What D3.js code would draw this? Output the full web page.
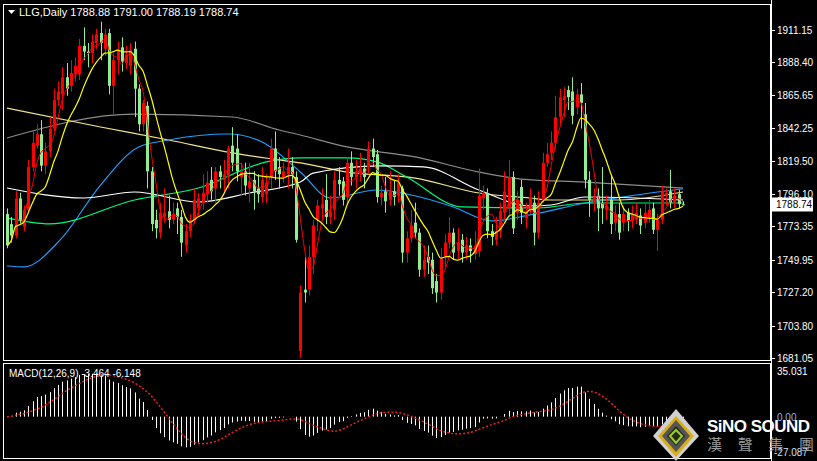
<!DOCTYPE html>
<html><head><meta charset="utf-8">
<script src="https://cdn.jsdelivr.net/npm/d3@7"></script>
<style>body{margin:0;background:#000}svg{display:block}</style>
</head><body>
<svg id="c" width="817" height="461"></svg>
<script>
const opens=[1782,1775,1767,1793,1773,1785,1815,1830,1838,1816,1826,1842,1862,1866,1878,1872,1880,1880,1900,1896,1895,1902,1909,1898,1909,1872,1890,1899,1888,1886,1898,1870,1845,1858,1812,1778,1769,1780,1784,1778,1786,1780,1760,1770,1778,1786,1790,1796,1806,1800,1812,1806,1808,1830,1828,1808,1812,1800,1806,1800,1794,1796,1808,1828,1815,1808,1810,1815,1808,1686,1729,1729,1752,1778,1786,1792,1780,1785,1806,1805,1794,1818,1808,1810,1814,1815,1828,1824,1794,1798,1792,1798,1795,1800,1755,1765,1776,1769,1743,1752,1750,1735,1727,1752,1762,1769,1756,1764,1755,1760,1754,1756,1793,1796,1770,1764,1770,1783,1786,1808,1783,1801,1779,1788,1790,1769,1792,1818,1825,1832,1850,1862,1869,1868,1857,1866,1852,1806,1790,1795,1790,1785,1792,1776,1782,1776,1783,1777,1778,1781,1776,1780,1786,1771,1778,1795,1798,1790,1796,1788.88];
const highs=[1786,1780,1798,1797,1788,1820,1840,1845,1848,1832,1850,1870,1875,1885,1888,1890,1892,1905,1913,1902,1908,1912,1917,1912,1912,1895,1903,1906,1900,1902,1903,1873,1862,1861,1815,1785,1790,1800,1795,1790,1790,1785,1775,1782,1800,1797,1810,1812,1815,1815,1816,1820,1830,1843,1838,1818,1818,1818,1812,1810,1815,1810,1835,1840,1822,1818,1828,1822,1812,1732,1752,1760,1778,1792,1800,1810,1795,1812,1815,1808,1822,1826,1820,1825,1818,1833,1835,1827,1802,1808,1812,1806,1810,1802,1770,1785,1790,1772,1760,1760,1755,1740,1758,1768,1780,1772,1772,1768,1766,1765,1770,1814,1802,1800,1775,1780,1790,1812,1820,1812,1798,1806,1790,1800,1795,1798,1825,1832,1840,1865,1870,1871,1872,1878,1870,1874,1860,1812,1800,1800,1815,1795,1810,1788,1790,1788,1786,1788,1790,1786,1790,1792,1790,1782,1802,1800,1813,1800,1799,1791.00];
const lows=[1758,1762,1765,1775,1770,1783,1812,1828,1812,1810,1822,1840,1858,1855,1865,1868,1875,1876,1890,1885,1888,1898,1890,1893,1866,1852,1880,1882,1884,1880,1850,1840,1840,1800,1770,1765,1765,1776,1772,1775,1768,1752,1755,1766,1775,1780,1785,1790,1792,1790,1800,1798,1800,1812,1805,1795,1795,1790,1785,1790,1790,1790,1800,1806,1800,1804,1800,1800,1762,1681,1720,1725,1740,1770,1778,1775,1775,1778,1795,1788,1790,1802,1800,1805,1800,1810,1815,1790,1788,1783,1788,1788,1790,1748,1748,1762,1765,1738,1738,1740,1726,1720,1722,1745,1758,1750,1750,1748,1750,1748,1750,1752,1785,1765,1760,1760,1765,1778,1780,1768,1778,1775,1772,1782,1760,1765,1790,1815,1820,1828,1845,1850,1855,1845,1852,1842,1800,1780,1784,1770,1775,1778,1768,1770,1764,1770,1770,1772,1775,1768,1772,1776,1768,1756,1775,1788,1786,1786,1786,1788.19];
const closes=[1760,1767,1793,1778,1785,1815,1832,1838,1816,1826,1842,1862,1868,1878,1870,1881,1886,1900,1896,1895,1903,1908,1902,1908,1872,1890,1897,1889,1894,1897,1870,1845,1860,1812,1775,1772,1783,1783,1778,1782,1780,1762,1770,1778,1792,1793,1797,1804,1798,1812,1808,1810,1828,1818,1812,1812,1802,1805,1798,1796,1806,1804,1828,1812,1810,1812,1815,1810,1764,1727,1727,1752,1774,1788,1789,1780,1784,1806,1803,1792,1818,1808,1812,1814,1808,1828,1822,1794,1797,1791,1798,1794,1804,1755,1765,1774,1769,1743,1750,1748,1730,1727,1751,1762,1769,1755,1762,1755,1760,1756,1760,1795,1797,1770,1766,1770,1784,1798,1808,1772,1792,1783,1784,1794,1769,1790,1818,1824,1832,1850,1864,1865,1864,1851,1866,1860,1806,1792,1794,1786,1786,1788,1775,1782,1769,1782,1777,1782,1783,1774,1783,1785,1771,1778,1798,1797,1790,1795,1789,1788.74];
const maGray=[[0,1835.4],[30,1852.2],[53,1850.1],[64,1841.0],[69,1837.5],[80,1829.1],[96,1822.1],[111,1811.5],[121,1806.6],[136,1804.5],[159,1800.3]];
const maKhaki=[[0,1856.4],[22,1843.1],[38,1834.0],[53,1824.9],[64,1820.0],[69,1817.9],[80,1811.5],[96,1807.3],[111,1796.8],[123,1793.3],[128,1791.9],[144,1791.9],[159,1797.5]];
const maBlue=[[0,1745.6],[4,1745.0],[12.5,1763.9],[22,1802.4],[31,1829.1],[38,1834.0],[52,1838.2],[60,1832.6],[69,1811.5],[76,1793.3],[87,1798.9],[98,1793.3],[105,1787.0],[114,1777.2],[123,1781.4],[136,1789.8],[148,1795.4],[159,1799.8]];
const maGreen=[[0,1779.3],[10,1775.1],[30,1791.9],[45,1800.3],[61,1818.6],[69,1821.4],[80,1821.4],[87,1818.6],[94,1808.0],[107,1787.0],[125,1786.3],[136,1789.8],[159,1789.8]];
const maWhite=[[0,1800.3],[18,1793.3],[30,1797.5],[45,1790.5],[57,1796.8],[69,1804.5],[72,1810.8],[88,1815.8],[98,1815.1],[111,1798.9],[123,1787.7],[128,1788.4],[136,1794.0],[148,1793.3],[159,1791.9]];
const priceTicks=[1911.15,1888.40,1865.65,1842.25,1819.50,1796.10,1773.35,1749.95,1727.20,1703.80,1681.05];
const macdTicks=[35.031,0,-27.087];
const macdTickLabels=["35.031","0.00","-27.087"];
const header="LLG,Daily  1788.88 1791.00 1788.19 1788.74";
const macdLabel="MACD(12,26,9) -3.464 -6.148";

const svg=d3.select("#c");
const N=closes.length;
const x=d3.scaleLinear().domain([0,N-1]).range([7,683]);
const y=d3.scaleLinear().domain([1681.05,1911.15]).range([358,30]);
const ym=d3.scaleLinear().domain([-27.087,35.031]).range([452,371]);
svg.append("rect").attr("width",817).attr("height",461).attr("fill","#000");
svg.append("rect").attr("x",3.5).attr("y",4.5).attr("width",767).attr("height",356).attr("fill","none").attr("stroke","#fff");
svg.append("rect").attr("x",3.5).attr("y",363.5).attr("width",767).attr("height",95).attr("fill","none").attr("stroke","#fff");
svg.append("line").attr("x1",771.5).attr("x2",771.5).attr("y1",0).attr("y2",461).attr("stroke","#fff");

const g=svg.append("g");
g.append("clipPath").attr("id","cp").append("rect").attr("x",4).attr("y",5).attr("width",766).attr("height",355);
const pg=g.append("g").attr("clip-path","url(#cp)");
function sma(p){return closes.map((c,i)=>{const s=closes.slice(Math.max(0,i-p+1),i+1);return d3.mean(s);});}
const line=d3.line().x(d=>x(d[0])).y(d=>y(d[1])).curve(d3.curveMonotoneX);
[[maGray,"#8c8c8c"],[maKhaki,"#f0e68c"],[maBlue,"#1e9fff"],[maGreen,"#00fa7a"],[maWhite,"#ffffff"]].forEach(([d,c])=>{
  pg.append("path").attr("d",line(d)).attr("fill","none").attr("stroke",c).attr("stroke-width",1.2);});
const idx=d3.range(N);
pg.selectAll(".w").data(idx).join("line").attr("x1",i=>Math.round(x(i))+0.5).attr("x2",i=>Math.round(x(i))+0.5)
 .attr("y1",i=>y(highs[i])).attr("y2",i=>y(lows[i])).attr("stroke",i=>closes[i]>=opens[i]?"#ff0000":"#90ee90");
pg.selectAll(".b").data(idx).join("rect").attr("x",i=>Math.round(x(i))-1).attr("width",3)
 .attr("y",i=>y(Math.max(opens[i],closes[i]))).attr("height",i=>Math.max(1,Math.abs(y(opens[i])-y(closes[i]))))
 .attr("fill",i=>closes[i]>=opens[i]?"#ff0000":"#90ee90");
const ml=d3.line().x((d,i)=>x(i)).y(d=>y(d)).curve(d3.curveMonotoneX);
pg.append("path").attr("d",ml(sma(4))).attr("fill","none").attr("stroke","#ff0000").attr("stroke-width",1);
pg.append("path").attr("d",ml(sma(10))).attr("fill","none").attr("stroke","#ffff00").attr("stroke-width",1.2);
svg.append("path").attr("d","M8,10 L15,10 L11.5,14 Z").attr("fill","#fff");
svg.append("text").attr("x",19).attr("y",16).attr("fill","#fff").attr("font-family","Liberation Sans, Arial").attr("font-size",11).text(header);
const ax=svg.append("g").attr("font-family","Liberation Sans, Arial").attr("font-size",10).attr("fill","#fff");
priceTicks.forEach(t=>{ax.append("line").attr("x1",771).attr("x2",775).attr("y1",Math.round(y(t))+0.5).attr("y2",Math.round(y(t))+0.5).attr("stroke","#fff");
 ax.append("text").attr("x",777).attr("y",y(t)+4).text(t.toFixed(2));});
ax.append("text").attr("x",777).attr("y",ym(macdTicks[0])+4).text(macdTickLabels[0]);
ax.append("rect").attr("x",772).attr("y",y(1788.74)-7).attr("width",41).attr("height",14).attr("fill","#fff");
ax.append("text").attr("x",776).attr("y",y(1788.74)+4).attr("fill","#000").text("1788.74");
function ema(arr,p){const k=2/(p+1);let e=arr[0];return arr.map(v=>e=v*k+e*(1-k));}
const e12=ema(closes,12),e26=ema(closes,26);
const macd=closes.map((c,i)=>e12[i]-e26[i]);
const sig=macd.map((m,i)=>d3.mean(macd.slice(Math.max(0,i-8),i+1)));
const mg=svg.append("g");
mg.selectAll("line").data(idx).join("line").attr("x1",i=>Math.round(x(i))+0.5).attr("x2",i=>Math.round(x(i))+0.5)
 .attr("y1",ym(0)).attr("y2",i=>ym(macd[i])).attr("stroke","#fff");
mg.append("path").attr("d",d3.line().x((d,i)=>x(i)).y(d=>ym(d)).curve(d3.curveMonotoneX)(sig)).attr("fill","none").attr("stroke","#ff2020").attr("stroke-width",1.4).attr("stroke-dasharray","2,2");
svg.append("text").attr("x",9).attr("y",377).attr("fill","#fff").attr("font-family","Liberation Sans, Arial").attr("font-size",10).text(macdLabel);
// logo (drawn over lower axis labels, as in reference)
const lg=svg.append("g");
lg.append("polygon").attr("points","676,409 699,436 676,461 653,436").attr("fill","#d0d0d0");
lg.append("polygon").attr("points","676,416 694,436 676,457 658,436").attr("fill","#d9ae1c");
lg.append("polygon").attr("points","676,420 690,436 676,452 662,436").attr("fill","#555");
lg.append("polygon").attr("points","676,426 685,436 676,446 667,436").attr("fill","#2a2a10");
lg.append("polygon").attr("points","676,430 682,436 676,443 670,436").attr("fill","none").attr("stroke","#9acd32").attr("stroke-width",2);
const lt=svg.append("g");
lt.append("text").attr("x",777).attr("y",ym(0)+4).attr("fill","#8ab4ff").attr("font-family","Liberation Sans, Arial").attr("font-size",10).text(macdTickLabels[1]);
lt.append("text").attr("x",774).attr("y",456).attr("fill","#cfe0ff").attr("font-family","Liberation Sans, Arial").attr("font-size",10).text(macdTickLabels[2]);
lt.append("text").attr("x",707).attr("y",432).attr("fill","#fff").attr("font-family","Liberation Sans, Arial").attr("font-weight","bold").attr("font-size",17).attr("textLength",103).text("SiNO SOUND");
lt.append("text").attr("x",707).attr("y",450).attr("fill","#999").attr("font-family","Noto Sans CJK TC").attr("font-size",15).attr("textLength",107).text("漢 聲 集 團");
</script></body></html>
